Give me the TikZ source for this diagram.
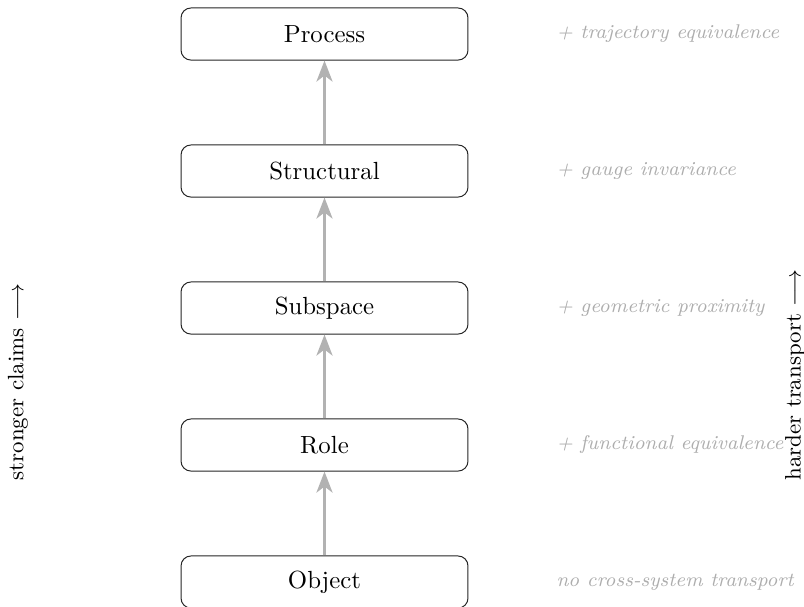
\documentclass[tikz,border=0pt]{standalone}
\usetikzlibrary{arrows.meta}
\begin{document}
\begin{tikzpicture}[x=0.4032pt,y=-0.4032pt,
  level/.style={draw=black!85, rounded corners=4pt, minimum width=115.7pt, minimum height=21pt, inner sep=0pt, fill=white},
  gain/.style={anchor=west, inner sep=0pt, text=black!32, font=\footnotesize\itshape},
  up/.style={draw=black!30, line width=1.1pt, -{Stealth[length=8.5pt,width=6.5pt,inset=2.5pt]}},
  side/.style={rotate=90, inner sep=0pt, font=\small}]
\useasboundingbox (0,0) rectangle (804,606);
\node[level] (process) at (324.5,34) {Process};
\node[level] (structural) at (324.5,171) {Structural};
\node[level] (subspace) at (324.5,308) {Subspace};
\node[level] (role) at (324.5,445) {Role};
\node[level] (object) at (324.5,582) {Object};
\draw[up] (object.north) -- (role.south);
\draw[up] (role.north) -- (subspace.south);
\draw[up] (subspace.north) -- (structural.south);
\draw[up] (structural.north) -- (process.south);
\node[gain] (g1) at (556,34) {+ trajectory equivalence};
\node[gain] (g2) at (556,171) {+ gauge invariance};
\node[gain] (g3) at (556,308) {+ geometric proximity};
\node[gain] (g4) at (556,445) {+ functional equivalence};
\node[gain] (g5) at (556,582) {no cross-system transport};
\node[side] (left) at (18,382) {stronger claims $\longrightarrow$};
\node[side] (right) at (795,375) {harder transport $\longrightarrow$};
\end{tikzpicture}
\end{document}
